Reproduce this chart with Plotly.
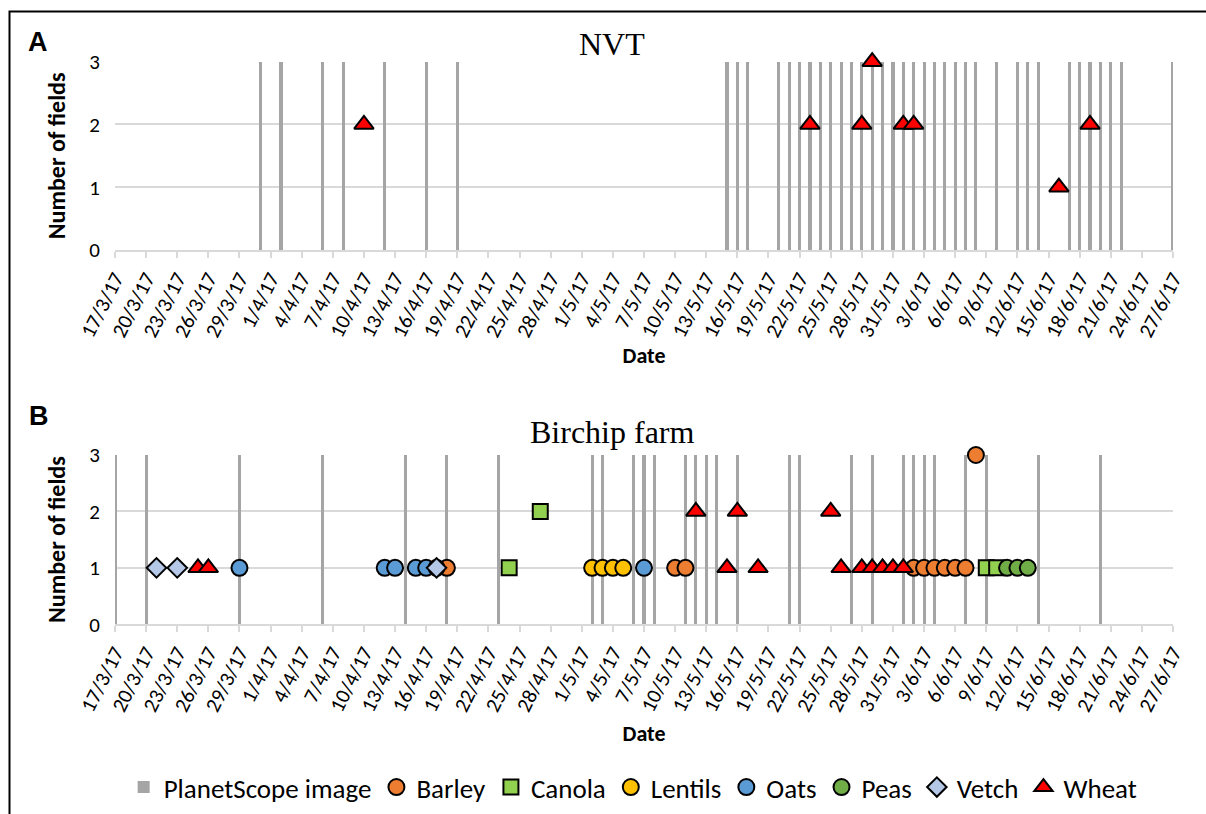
import plotly.graph_objects as go

# ---- NVT trial (panel A) ----
nvt_image_dates = [
    "2017-03-31", "2017-04-02", "2017-04-06", "2017-04-08", "2017-04-12", "2017-04-16", "2017-04-19",
    "2017-05-15", "2017-05-16", "2017-05-17", "2017-05-20", "2017-05-21", "2017-05-22", "2017-05-23",
    "2017-05-24", "2017-05-25", "2017-05-26", "2017-05-27", "2017-05-28", "2017-05-29", "2017-05-30",
    "2017-05-31", "2017-06-01", "2017-06-02", "2017-06-03", "2017-06-04", "2017-06-05", "2017-06-06",
    "2017-06-07", "2017-06-08", "2017-06-10", "2017-06-12", "2017-06-13", "2017-06-14", "2017-06-17",
    "2017-06-18", "2017-06-19", "2017-06-20", "2017-06-21", "2017-06-22", "2017-06-27",
]
nvt_wheat_dates = ["2017-04-10", "2017-05-23", "2017-05-28", "2017-05-29", "2017-06-01", "2017-06-02",
                   "2017-06-16", "2017-06-19"]
nvt_wheat_fields = [2, 2, 2, 3, 2, 2, 1, 2]

# ---- Birchip farm (panel B) ----
birchip_image_dates = [
    "2017-03-17", "2017-03-20", "2017-03-29", "2017-04-06", "2017-04-14", "2017-04-18", "2017-04-23",
    "2017-05-02", "2017-05-03", "2017-05-06", "2017-05-07", "2017-05-08", "2017-05-11", "2017-05-12",
    "2017-05-13", "2017-05-14", "2017-05-16", "2017-05-21", "2017-05-22", "2017-05-27", "2017-05-29",
    "2017-06-01", "2017-06-02", "2017-06-03", "2017-06-04", "2017-06-07", "2017-06-09", "2017-06-14",
    "2017-06-20",
]
barley_dates = ["2017-04-18", "2017-05-10", "2017-05-11", "2017-06-02", "2017-06-03", "2017-06-04",
                "2017-06-05", "2017-06-06", "2017-06-07", "2017-06-08"]
barley_fields = [1, 1, 1, 1, 1, 1, 1, 1, 1, 3]
canola_dates = ["2017-04-24", "2017-04-27", "2017-06-09", "2017-06-10"]
canola_fields = [1, 2, 1, 1]
lentils_dates = ["2017-05-02", "2017-05-03", "2017-05-04", "2017-05-05"]
lentils_fields = [1, 1, 1, 1]
oats_dates = ["2017-03-29", "2017-04-12", "2017-04-13", "2017-04-15", "2017-04-16", "2017-04-17",
              "2017-05-07"]
oats_fields = [1, 1, 1, 1, 1, 1, 1]
peas_dates = ["2017-06-11", "2017-06-12", "2017-06-13"]
peas_fields = [1, 1, 1]
vetch_dates = ["2017-03-21", "2017-03-23", "2017-04-17"]
vetch_fields = [1, 1, 1]
wheat_dates = ["2017-03-25", "2017-03-26", "2017-05-12", "2017-05-15", "2017-05-16", "2017-05-18",
               "2017-05-25", "2017-05-26", "2017-05-28", "2017-05-29", "2017-05-30", "2017-05-31",
               "2017-06-01"]
wheat_fields = [1, 1, 2, 1, 2, 1, 2, 1, 1, 1, 1, 1, 1]

X_START, X_END = "2017-03-17", "2017-06-27"
DAY_MS = 86400000

W, H = 1206, 814
TICK_FONT = "Carlito, Lato, sans-serif"
GRAY = "#A5A5A5"
GRID = "#D9D9D9"

crops = [
    ("Barley", barley_dates, barley_fields, "circle", "#ED7D31", 16),
    ("Canola", canola_dates, canola_fields, "square", "#92D050", 15),
    ("Lentils", lentils_dates, lentils_fields, "circle", "#FFC000", 16),
    ("Oats", oats_dates, oats_fields, "circle", "#5B9BD5", 16),
    ("Peas", peas_dates, peas_fields, "circle", "#70AD47", 16),
    ("Vetch", vetch_dates, vetch_fields, "diamond", "#B4C7E7", 15),
    ("Wheat", wheat_dates, wheat_fields, "triangle-up", "#FF0000", 17),
]

fig = go.Figure()


def image_bars(dates, xa, ya, show):
    return go.Bar(
        x=dates, y=[3] * len(dates), width=[0.3 * DAY_MS] * len(dates),
        marker=dict(color=GRAY, line=dict(width=0)),
        name="PlanetScope image", showlegend=show, legendrank=1,
        xaxis=xa, yaxis=ya, hoverinfo="x",
    )


# Panel A
fig.add_trace(image_bars(nvt_image_dates, "x", "y", False))
fig.add_trace(go.Scatter(
    x=nvt_wheat_dates, y=nvt_wheat_fields, mode="markers", name="Wheat", showlegend=False,
    marker=dict(symbol="triangle-up", size=17, color="#FF0000", line=dict(color="black", width=2)),
    cliponaxis=False, xaxis="x", yaxis="y",
))

# Panel B
fig.add_trace(image_bars(birchip_image_dates, "x2", "y2", True))
for i, (name, d, v, sym, col, sz) in enumerate(crops):
    fig.add_trace(go.Scatter(
        x=d, y=v, mode="markers", name=name, legendrank=2 + i,
        marker=dict(symbol=sym, size=sz, color=col, line=dict(color="black", width=2)),
        cliponaxis=False, xaxis="x2", yaxis="y2",
    ))

x_dom = [115 / W, 1173 / W]
yA = [(H - 250) / H, (H - 61.7) / H]
yB = [(H - 624.3) / H, (H - 455) / H]


def xaxis_cfg(anchor, standoff):
    return dict(
        type="date", domain=x_dom, anchor=anchor, range=[X_START, X_END], automargin=False,
        tick0=X_START, dtick=3 * DAY_MS, tickformat="%-d/%-m/%y", tickangle=-63,
        tickfont=dict(family=TICK_FONT, size=21, color="black"),
        ticks="outside", ticklen=6, tickcolor=GRID, tickwidth=1.5,
        showline=True, linecolor=GRID, linewidth=1.5, showgrid=False, zeroline=False,
        title=dict(text="<b>Date</b>", font=dict(family=TICK_FONT, size=22, color="black"),
                   standoff=standoff),
    )


def yaxis_cfg(dom, anchor):
    return dict(
        domain=dom, anchor=anchor, range=[0, 3], dtick=1, tick0=0, automargin=False,
        tickfont=dict(family=TICK_FONT, size=21, color="black"), ticklabelstandoff=14,
        showgrid=True, gridcolor=GRID, gridwidth=1.5, zeroline=False, showline=False,
        title=dict(text="<b>Number of fields</b>", font=dict(family=TICK_FONT, size=24, color="black"),
                   standoff=16),
    )


def label(text, x, y, family, size):
    return dict(text=text, x=x / W, y=(H - y) / H, xref="paper", yref="paper", showarrow=False,
                xanchor="center", yanchor="middle", font=dict(family=family, size=size, color="black"))


SERIF = "Liberation Serif, Times New Roman, serif"
SANS = "Liberation Sans, Arial, sans-serif"

fig.update_layout(
    width=W, height=H, margin=dict(l=0, r=0, t=0, b=0, autoexpand=False),
    paper_bgcolor="white", plot_bgcolor="white",
    barmode="overlay", bargap=0,
    xaxis=xaxis_cfg("y", 4), yaxis=yaxis_cfg(yA, "x"),
    xaxis2=xaxis_cfg("y2", 10), yaxis2=yaxis_cfg(yB, "x2"),
    legend=dict(
        orientation="h", x=0.525, xanchor="center", y=2 / H, yanchor="bottom",
        font=dict(family=TICK_FONT, size=27, color="black"), itemwidth=30,
        traceorder="normal", bgcolor="rgba(0,0,0,0)",
    ),
    showlegend=True,
    annotations=[
        label("NVT", 612, 44, SERIF, 32),
        label("Birchip farm", 612, 432, SERIF, 32),
        label("<b>A</b>", 38, 42, SANS, 27),
        label("<b>B</b>", 39, 416, SANS, 27),
    ],
    shapes=[
        dict(type="rect", xref="paper", yref="paper", x0=9.5 / W, x1=1.02, y0=-0.02, y1=(H - 11.5) / H,
             line=dict(color="black", width=2), fillcolor="rgba(0,0,0,0)", layer="above"),
    ],
)

fig.write_html("out.html")
